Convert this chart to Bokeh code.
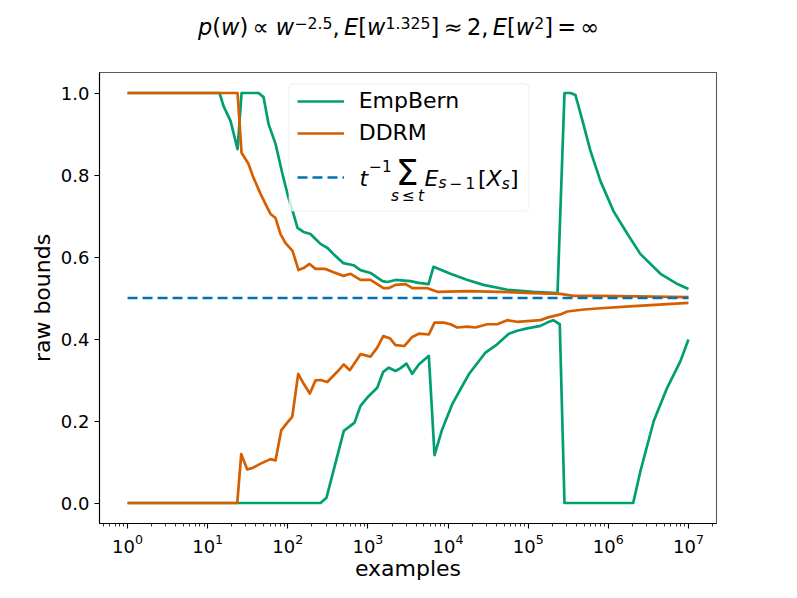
import numpy as np
from bokeh.plotting import figure
from bokeh.layouts import column
from bokeh.models import (Range1d, FixedTicker, PrintfTickFormatter, LogTickFormatter,
                          Label, BoxAnnotation, Legend, LegendItem)
from bokeh.embed import file_html
from bokeh.resources import INLINE

# ---------------- data ----------------
# x positions are given as log10(examples)
empbern_upper_log10x = [0, 1.148, 1.198, 1.285, 1.373, 1.423, 1.635, 1.697, 1.76, 1.847, 1.934, 2.009,
                        2.071, 2.121, 2.196, 2.283, 2.346, 2.408, 2.496, 2.571, 2.695, 2.82, 2.907, 3.032,
                        3.182, 3.244, 3.344, 3.531, 3.631, 3.756, 3.818, 4.03, 4.243, 4.442, 4.742, 5.066,
                        5.366, 5.453, 5.528, 5.59, 5.678, 5.777, 5.902, 6.064, 6.239, 6.401, 6.651, 6.863, 7.0]
empbern_upper = [1.0, 1.0, 0.968, 0.932, 0.863, 1.0, 1.0, 0.99, 0.924, 0.876, 0.802, 0.744,
                 0.705, 0.671, 0.661, 0.656, 0.644, 0.632, 0.622, 0.607, 0.585, 0.58, 0.568, 0.561,
                 0.541, 0.539, 0.544, 0.541, 0.537, 0.534, 0.576, 0.559, 0.544, 0.532, 0.52, 0.515,
                 0.512, 1.0, 1.0, 0.995, 0.932, 0.859, 0.785, 0.712, 0.656, 0.607, 0.559, 0.534, 0.522]

empbern_lower_log10x = [0, 2.408, 2.483, 2.699, 2.833, 2.907, 3.011, 3.116, 3.191, 3.261, 3.344, 3.407,
                        3.481, 3.553, 3.635, 3.76, 3.831, 3.927, 4.052, 4.259, 4.467, 4.613, 4.758, 4.863,
                        4.988, 5.153, 5.237, 5.312, 5.394, 5.453, 6.31, 6.401, 6.567, 6.734, 6.9, 7.0]
empbern_lower = [0.0, 0.0, 0.013, 0.176, 0.196, 0.237, 0.261, 0.281, 0.32, 0.33, 0.322, 0.329,
                 0.34, 0.315, 0.338, 0.359, 0.117, 0.18, 0.241, 0.314, 0.367, 0.387, 0.413, 0.42,
                 0.426, 0.432, 0.44, 0.446, 0.436, 0.0, 0.0, 0.078, 0.2, 0.281, 0.346, 0.399]

ddrm_upper_log10x = [0, 1.373, 1.423, 1.472, 1.51, 1.572, 1.66, 1.722, 1.784, 1.847, 1.909, 1.972,
                     2.059, 2.134, 2.196, 2.271, 2.346, 2.471, 2.571, 2.695, 2.783, 2.907, 3.032, 3.194,
                     3.257, 3.344, 3.469, 3.556, 3.743, 3.868, 4.243, 4.654, 5.066, 5.403, 5.565, 5.902, 7.0]
ddrm_upper = [1.0, 1.0, 0.854, 0.839, 0.827, 0.793, 0.754, 0.729, 0.705, 0.695, 0.656, 0.634,
              0.615, 0.568, 0.573, 0.583, 0.571, 0.571, 0.563, 0.554, 0.559, 0.544, 0.544, 0.524,
              0.524, 0.532, 0.534, 0.524, 0.524, 0.515, 0.517, 0.515, 0.512, 0.51, 0.505, 0.505, 0.502]

ddrm_lower_log10x = [0, 1.369, 1.419, 1.494, 1.556, 1.66, 1.784, 1.847, 1.918, 1.993, 2.055, 2.13,
                     2.2, 2.275, 2.346, 2.408, 2.492, 2.617, 2.699, 2.774, 2.907, 3.032, 3.116, 3.191,
                     3.273, 3.344, 3.456, 3.553, 3.635, 3.76, 3.831, 3.947, 4.03, 4.114, 4.239, 4.342,
                     4.488, 4.613, 4.738, 4.863, 5.153, 5.237, 5.403, 5.487, 5.694, 5.902, 6.318, 7.0]
ddrm_lower = [0.0, 0.0, 0.119, 0.082, 0.085, 0.096, 0.107, 0.104, 0.177, 0.196, 0.21, 0.315,
              0.29, 0.267, 0.299, 0.3, 0.295, 0.32, 0.338, 0.324, 0.363, 0.357, 0.379, 0.407,
              0.402, 0.385, 0.383, 0.405, 0.413, 0.411, 0.44, 0.44, 0.436, 0.428, 0.43, 0.428,
              0.436, 0.436, 0.446, 0.442, 0.446, 0.452, 0.46, 0.467, 0.472, 0.475, 0.48, 0.488]

mean_examples = [1, 1e7]
mean_value = [0.5, 0.5]

x_major_ticks = [1, 10, 100, 1000, 10000, 100000, 1000000, 10000000]
y_ticks = [0.0, 0.2, 0.4, 0.6, 0.8, 1.0]

C_EMP = "#029e73"
C_DDRM = "#d55e00"
C_MEAN = "#0173b2"
FONT = "DejaVu Sans"

W = 797
TITLE_H = 72
MAIN_H = 526

# ---------------- title strip ----------------
tf = figure(width=W, height=TITLE_H, output_backend="svg", toolbar_location=None, title=None,
            x_range=Range1d(0, 1), y_range=Range1d(0, 1),
            x_axis_location=None, y_axis_location=None, min_border=0)
tf.outline_line_color = None
tf.xgrid.grid_line_color = None
tf.ygrid.grid_line_color = None
tf.background_fill_color = "white"
tf.border_fill_color = "white"

# ---------------- main figure ----------------
p = figure(width=W, height=MAIN_H, x_axis_type="log", title=None,
           x_range=Range1d(10 ** -0.35, 10 ** 7.35), y_range=Range1d(-0.05, 1.05),
           output_backend="svg", toolbar_location=None,
           min_border_left=99, min_border_right=81, min_border_top=0, min_border_bottom=75)
p.background_fill_color = "white"
p.border_fill_color = "white"
p.xgrid.grid_line_color = None
p.ygrid.grid_line_color = None
p.outline_line_color = "#5a5a5a"
p.outline_line_width = 1.1

minor = [m * 10.0 ** k for k in range(-1, 8) for m in range(2, 10)]
p.xaxis.ticker = FixedTicker(ticks=x_major_ticks, minor_ticks=minor)
p.xaxis.formatter = LogTickFormatter()
p.yaxis.ticker = FixedTicker(ticks=y_ticks)
p.yaxis.formatter = PrintfTickFormatter(format="%.1f")

for ax in (p.xaxis[0], p.yaxis[0]):
    ax.major_tick_out = 5
    ax.major_tick_in = 0
    ax.minor_tick_out = 3
    ax.minor_tick_in = 0
    ax.axis_line_color = "black"
    ax.axis_line_width = 1.1
    ax.major_tick_line_color = "black"
    ax.major_tick_line_width = 1.1
    ax.minor_tick_line_color = "black"
    ax.minor_tick_line_width = 0.8
    ax.major_label_text_font = FONT
    ax.major_label_text_font_size = "18px"
    ax.major_label_text_color = "black"
    ax.major_label_standoff = 5
    ax.axis_label_text_font = FONT
    ax.axis_label_text_font_size = "22px"
    ax.axis_label_text_font_style = "normal"
    ax.axis_label_text_color = "black"
p.yaxis.minor_tick_line_color = None
p.xaxis.axis_label = "examples"
p.yaxis.axis_label = "raw bounds"
p.xaxis.axis_label_standoff = 0
p.yaxis.axis_label_standoff = 3

LW = 2.7
def lx(v):
    return [10.0 ** e for e in v]

r_eu = p.line(lx(empbern_upper_log10x), empbern_upper, line_color=C_EMP, line_width=LW, line_join="round")
r_el = p.line(lx(empbern_lower_log10x), empbern_lower, line_color=C_EMP, line_width=LW, line_join="round")
r_du = p.line(lx(ddrm_upper_log10x), ddrm_upper, line_color=C_DDRM, line_width=LW, line_join="round")
r_dl = p.line(lx(ddrm_lower_log10x), ddrm_lower, line_color=C_DDRM, line_width=LW, line_join="round")
r_mean = p.line(mean_examples, mean_value, line_color=C_MEAN, line_width=LW, line_dash="10 5")

# ---------------- text helpers (page px -> frame screen units) ----------------
DY_FRAC = 0.386  # empirical baseline correction, proportional to font size
def make_put(fig, x0, y0):
    def put(text, px, py, size, italic=False, align="left"):
        fig.add_layout(Label(x=px - x0, y=y0 - (py - DY_FRAC * size), x_units="screen", y_units="screen",
                             text=text, text_font=FONT, text_font_size=f"{size:.1f}px",
                             text_font_style="italic" if italic else "normal",
                             text_color="black", text_align=align, text_baseline="alphabetic"))
    return put

put_main = make_put(p, 99.0, 523.0)   # main frame: left at page x 99, bottom at page y 523
put_title = make_put(tf, 99.0, 72.0)  # title strip frame is aligned with main frame (left 99)

EMW = {"p": 0.635, "(": 0.390, ")": 0.390, "w": 0.818, "∝": 0.838, "−": 0.838, ".": 0.318,
       ",": 0.318, "E": 0.632, "[": 0.390, "]": 0.390, "≈": 0.838, "=": 0.838, "∞": 0.833,
       "t": 0.392, "s": 0.521, "X": 0.685, "≤": 0.838}
def tw(s, size):
    return sum(EMW.get(c, 0.636) for c in s) * size

def run(put, tokens, x, base, sup_base, size):
    small = 0.7 * size
    for tok in tokens:
        if tok is None:
            x += 0.2 * 0.974 * size
            continue
        text, it, lvl = tok
        sz = small if lvl else size
        put(text, x, sup_base if lvl else base, sz, italic=bool(it))
        x += tw(text, sz)
    return x

# ---------------- legend ----------------
X0, Y0 = 99.0, 523.0
box = BoxAnnotation(left=288.3 - X0, right=528.3 - X0, top=Y0 - 83.3, bottom=Y0 - 210.7,
                    left_units="screen", right_units="screen", top_units="screen", bottom_units="screen",
                    fill_color="white", fill_alpha=0.8, line_color="#cccccc", line_width=1,
                    border_radius=4)
p.add_layout(box)

legend_common = dict(background_fill_alpha=0, border_line_alpha=0, padding=0, margin=0, spacing=0,
                     glyph_width=47, glyph_height=32, label_height=32, label_standoff=15,
                     label_text_font=FONT, label_text_font_size="22px", label_text_color="black")
leg_a = Legend(items=[LegendItem(label="EmpBern", renderers=[r_eu]),
                      LegendItem(label="DDRM", renderers=[r_du])],
               location=(296.7 - X0, Y0 - 148.7), **legend_common)
leg_b = Legend(items=[LegendItem(label="", renderers=[r_mean])],
               location=(296.7 - X0, Y0 - 192.7), **legend_common)
p.add_layout(leg_a, "center")
p.add_layout(leg_b, "center")

# third legend label: t^{-1} sum_{s<=t} E_{s-1}[X_s]
L = 22.0
LS = 0.7 * L
put_main("t", 359.0, 186.0, L, italic=True)
put_main("−1", 368.5, 171.0, LS)
put_main("Σ", 406.5, 186.0, 36.0, align="center")
run(put_main, [("s", 1, 0), None, ("≤", 0, 0), None, ("t", 1, 0)], 390.5, 201.0, 201.0, LS)
put_main("E", 424.0, 186.0, L, italic=True)
run(put_main, [("s", 1, 0), None, ("−", 0, 0), None, ("1", 0, 0)], 438.0, 188.5, 188.5, LS)
put_main("[", 477.5, 186.0, L)
put_main("X", 486.1, 186.0, L, italic=True)
put_main("s", 501.2, 189.0, LS, italic=True)
put_main("]", 509.4, 186.0, L)

# ---------------- title: p(w) ∝ w^{-2.5}, E[w^{1.325}] ≈ 2, E[w^2] = ∞ ----------------
title_tokens = [("p", 1, 0), ("(", 0, 0), ("w", 1, 0), (")", 0, 0), None, ("∝", 0, 0), None,
                ("w", 1, 0), ("−2.5", 0, 1), (",", 0, 0), None,
                ("E", 1, 0), ("[", 0, 0), ("w", 1, 0), ("1.325", 0, 1), ("]", 0, 0), None,
                ("≈", 0, 0), None, ("2", 0, 0), (",", 0, 0), None,
                ("E", 1, 0), ("[", 0, 0), ("w", 1, 0), ("2", 0, 1), ("]", 0, 0), None,
                ("=", 0, 0), None, ("∞", 0, 0)]
run(put_title, title_tokens, 197.5, 35.0, 28.3, 22.5)

layout = column(tf, p, spacing=0)
open("out.html", "w").write(file_html(layout, INLINE))
